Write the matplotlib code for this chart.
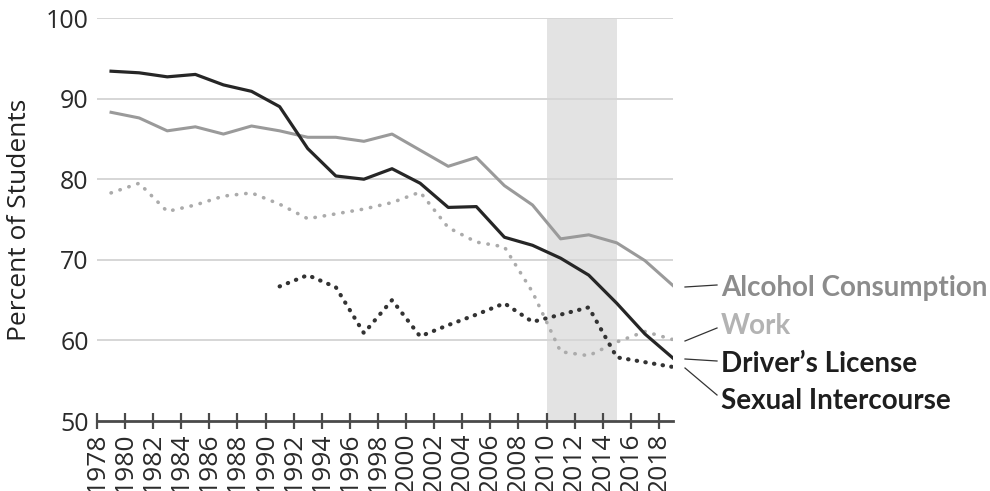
import matplotlib.pyplot as plt
from matplotlib.lines import Line2D

# data (odd years)
years = list(range(1979, 2020, 2))
years_sex = list(range(1991, 2020, 2))

alcohol = [88.3, 87.6, 86.0, 86.5, 85.6, 86.6, 86.0, 85.2, 85.2, 84.7, 85.6,
           83.6, 81.6, 82.7, 79.2, 76.8, 72.6, 73.1, 72.1, 69.9, 66.8]
work = [78.3, 79.5, 76.0, 76.8, 77.9, 78.3, 76.9, 75.1, 75.7, 76.3, 77.1,
        78.4, 74.0, 72.2, 71.6, 66.0, 58.6, 58.1, 59.8, 61.1, 60.1]
driver = [93.4, 93.2, 92.7, 93.0, 91.7, 90.9, 89.0, 83.8, 80.4, 80.0, 81.3,
          79.5, 76.5, 76.6, 72.8, 71.8, 70.2, 68.1, 64.6, 60.8, 57.8]
sexual = [66.7, 68.1, 66.6, 60.9, 65.0, 60.5, 61.9, 63.2, 64.6, 62.3, 63.2,
          64.1, 57.9, 57.3, 56.7]

xticks = list(range(1978, 2019, 2))
yticks = [50, 60, 70, 80, 90, 100]
shade = (2010, 2015)

labels = ['Alcohol Consumption', 'Work', 'Driver\u2019s License', 'Sexual Intercourse']
label_colors = ['#8c8c8c', '#b3b3b3', '#1e1e1e', '#1e1e1e']

W, H = 990, 491
fig = plt.figure(figsize=(W / 100, H / 100), dpi=100)
ax = fig.add_axes([97 / W, 1 - 421 / H, (673 - 97) / W, (421 - 18) / H])

tick_font = ['Open Sans', 'DejaVu Sans']

ax.axvspan(shade[0], shade[1], color='#e3e3e3', lw=0, zorder=0)
for v in yticks[1:]:
    ax.axhline(v, color='#d6d6d6', lw=1.4, zorder=1)

ax.plot(years, alcohol, color='#9a9a9a', lw=2.2, zorder=3)
ax.plot(years, work, color='#ababab', lw=2.6, linestyle=(0, (0.1, 2.5)),
        dash_capstyle='round', zorder=3)
ax.plot(years, driver, color='#262626', lw=2.3, zorder=4)
ax.plot(years_sex, sexual, color='#333333', lw=3.0, linestyle=(0, (0.1, 2.0)),
        dash_capstyle='round', zorder=4)

ax.set_xlim(1978, 2019)
ax.set_ylim(50, 100)
for s in ['top', 'right', 'left']:
    ax.spines[s].set_visible(False)
ax.spines['bottom'].set_color('#4a4a4a')
ax.spines['bottom'].set_linewidth(2.0)

ax.set_xticks(xticks)
ax.set_xticklabels([str(x) for x in xticks], rotation=90, fontsize=19,
                   family=tick_font, color='#2a2a2a')
ax.tick_params(axis='x', direction='inout', length=12, width=1.6,
               color='#4a4a4a', pad=2)
ax.set_yticks(yticks)
ax.set_yticklabels([str(v) for v in yticks], fontsize=18, family=tick_font,
                   color='#2a2a2a')
ax.tick_params(axis='y', length=0, pad=6)

ax.set_ylabel('Percent of Students', fontsize=19, family=tick_font,
              color='#222222')
ax.yaxis.set_label_coords(-0.113, 0.5)

# end labels with connector lines (figure pixel positions)
text_y = [288, 326, 364, 401]
conn = [((685, 287), (717, 285)), ((685, 341), (717, 328)),
        ((685, 359), (717, 361)), ((685, 368), (717, 395))]
for lab, col, ty, (p0, p1) in zip(labels, label_colors, text_y, conn):
    fig.add_artist(Line2D([p0[0] / W, p1[0] / W], [1 - p0[1] / H, 1 - p1[1] / H],
                          transform=fig.transFigure, color='#333333', lw=0.9))
    fig.text(721 / W, 1 - ty / H, lab, ha='left', va='center', fontsize=20,
             family='Lato', fontweight='bold', color=col)

fig.savefig('out.png', dpi=100)
